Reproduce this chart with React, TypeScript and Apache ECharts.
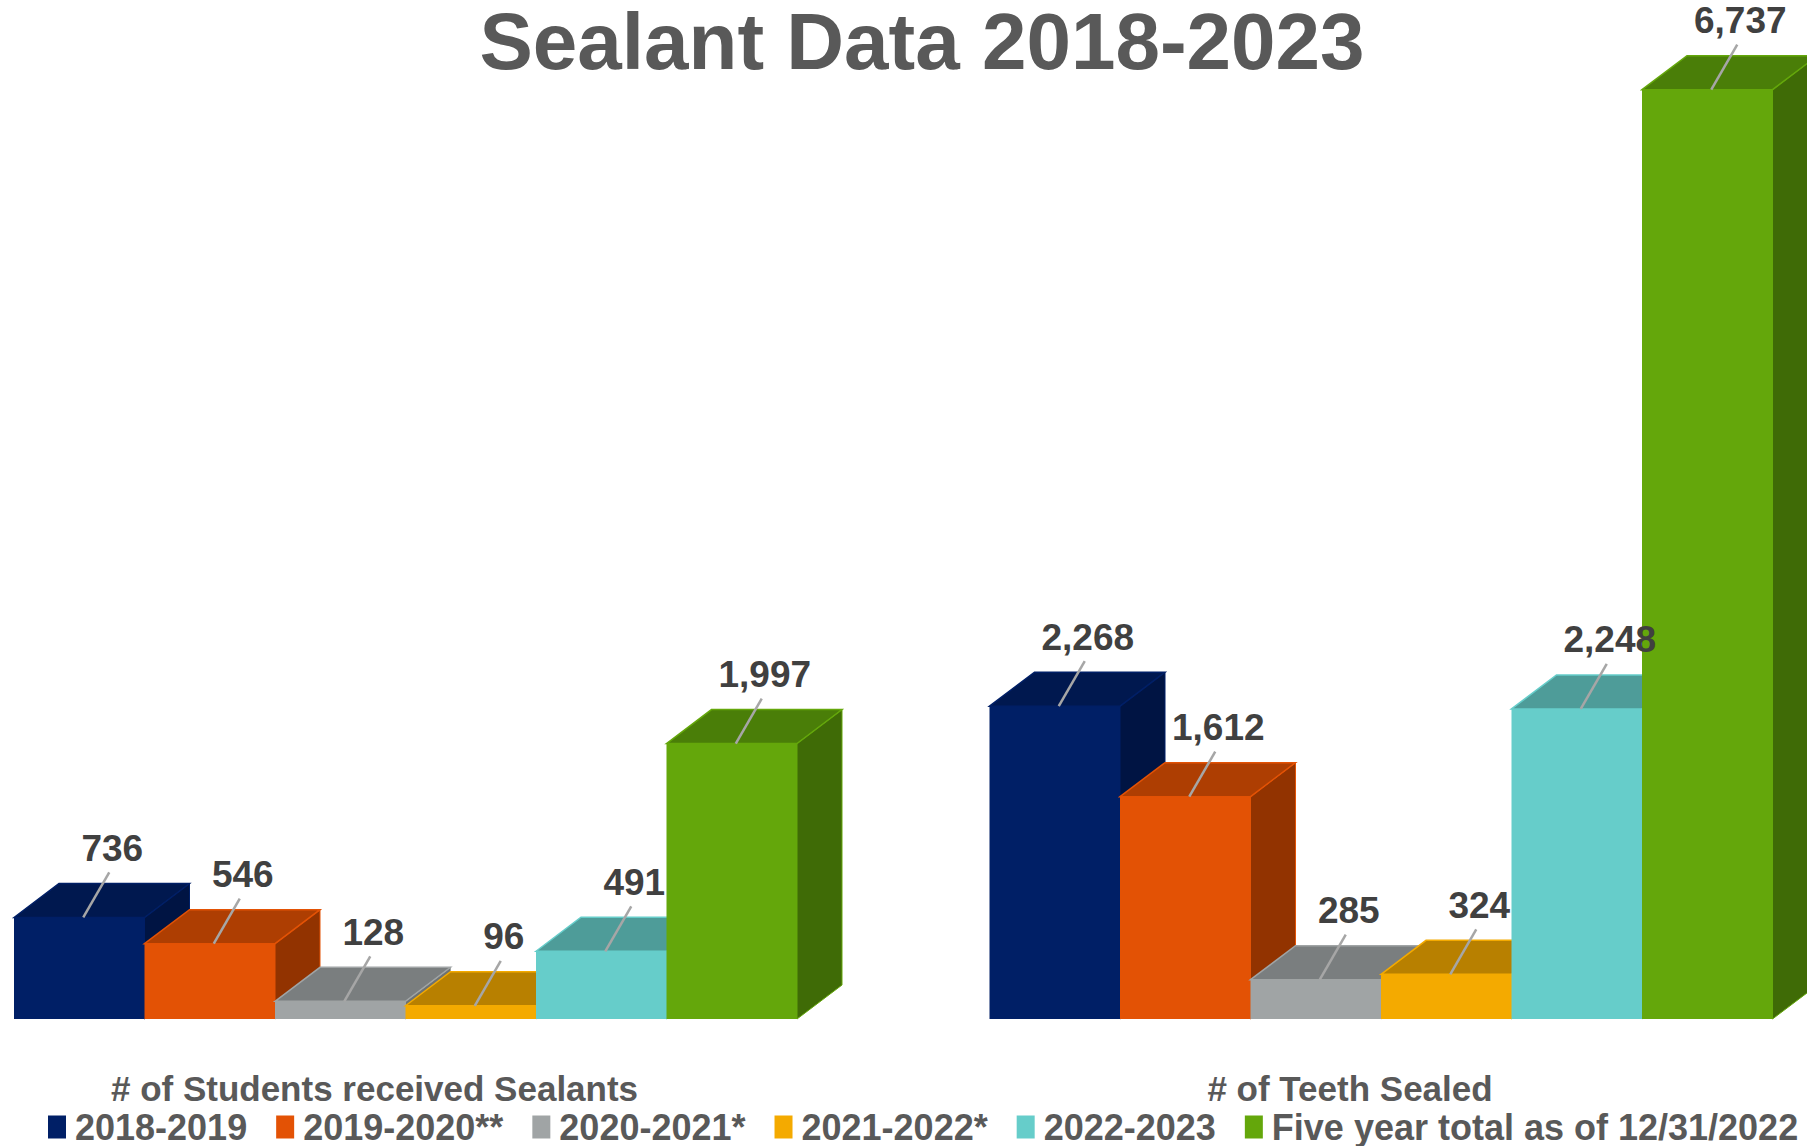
import React, { useEffect, useRef } from 'react';
import * as echarts from 'echarts';

const categories = ['# of Students received Sealants', '# of Teeth Sealed'];
const seriesNames = ['2018-2019', '2019-2020**', '2020-2021*', '2021-2022*', '2022-2023', 'Five year total as of 12/31/2022'];
const values2018 = [736, 2268];
const values2019 = [546, 1612];
const values2020 = [128, 285];
const values2021 = [96, 324];
const values2022 = [491, 2248];
const valuesTotal = [1997, 6737];
const seriesValues = [values2018, values2019, values2020, values2021, values2022, valuesTotal];

const frontColors = ['#001F66', '#E35205', '#A0A4A5', '#F4AA00', '#66CDCA', '#64A70B'];
const topColors = ['#00184F', '#AE3E02', '#7A7E7F', '#B88000', '#4E9C99', '#4A7E08'];
const sideColors = ['#001443', '#923300', '#6E7272', '#9C6D00', '#3F8582', '#3F6B06'];

const FONT = '"Liberation Sans", Arial, Helvetica, sans-serif';
const BAR_FRAC = 130.5 / 975.5;
const DX = 45;
const DY = 34;

function makeRender(idx: number) {
  return (params: any, api: any) => {
    const cat = api.value(0);
    const val = api.value(1);
    const base = api.coord([cat, 0]);
    const top = api.coord([cat, val]);
    const band = api.size([1, 0])[0];
    const w = band * BAR_FRAC;
    const x0 = base[0] - 3 * w + idx * w;
    const x1 = x0 + w;
    const ty = top[1];
    const by = base[1];
    const cx = x0 + w / 2;
    const zb = idx * 10;
    return {
      type: 'group',
      children: [
        {
          type: 'polygon',
          shape: { points: [[x1, ty], [x1 + DX, ty - DY], [x1 + DX, by - DY], [x1, by]] },
          style: { fill: sideColors[idx], stroke: frontColors[idx], lineWidth: 1 },
          z2: zb + 1,
        },
        {
          type: 'polygon',
          shape: { points: [[x0, ty], [x0 + DX, ty - DY], [x1 + DX, ty - DY], [x1, ty]] },
          style: { fill: topColors[idx], stroke: frontColors[idx], lineWidth: 1.5 },
          z2: zb + 2,
        },
        {
          type: 'rect',
          shape: { x: x0, y: ty, width: w, height: by - ty },
          style: { fill: frontColors[idx] },
          z2: zb + 3,
        },
        {
          type: 'line',
          shape: { x1: cx + 4, y1: ty, x2: cx + 30, y2: ty - 45 },
          style: { stroke: '#A6A6A6', lineWidth: 2.5 },
          z2: 1000,
        },
        {
          type: 'text',
          x: cx + 33,
          y: ty - 69,
          style: {
            text: Number(val).toLocaleString('en-US'),
            fill: '#404040',
            font: 'bold 37px ' + FONT,
            align: 'center',
            verticalAlign: 'middle',
          },
          z2: 1001,
        },
      ],
    };
  };
}

export default function App() {
  const ref = useRef<HTMLDivElement>(null);
  useEffect(() => {
    if (!ref.current) return;
    const chart = echarts.init(ref.current, null, { renderer: 'svg' });
    chart.setOption({
      animation: false,
      backgroundColor: '#FFFFFF',
      title: {
        text: 'Sealant Data 2018-2023',
        left: 922,
        textAlign: 'center',
        top: 1,
        padding: 0,
        textStyle: { fontSize: 80, fontWeight: 'bold', color: '#595959', fontFamily: FONT },
      },
      legend: {
        data: seriesNames,
        left: 46,
        top: 1104,
        width: 1790,
        padding: [5, 0, 5, 2],
        icon: 'rect',
        itemWidth: 18,
        itemHeight: 23,
        itemGap: 29,
        textStyle: { fontSize: 36, fontWeight: 'bold', color: '#595959', fontFamily: FONT, padding: [0, 0, 0, 4] },
      },
      grid: {
        left: -82.25,
        right: -61.75,
        top: 53.4,
        bottom: 127,
        outerBoundsMode: 'none',
        containLabel: false,
      },
      xAxis: {
        type: 'category',
        data: categories,
        axisLine: { show: false },
        axisTick: { show: false },
        splitLine: { show: false },
        axisLabel: {
          margin: 52,
          padding: [0, 62, 0, 0],
          fontSize: 35,
          fontWeight: 'bold',
          color: '#595959',
          fontFamily: FONT,
          interval: 0,
        },
      },
      yAxis: {
        type: 'value',
        min: 0,
        max: 7000,
        show: false,
      },
      series: seriesNames.map((name, i) => ({
        type: 'custom',
        name,
        renderItem: makeRender(i),
        itemStyle: { color: frontColors[i] },
        encode: { x: 0, y: 1 },
        data: seriesValues[i].map((v, j) => [j, v]),
        clip: false,
      })),
    });
    return () => chart.dispose();
  }, []);
  return <div ref={ref} style={{ position: 'fixed', left: 0, top: 0, width: 1807, height: 1146 }} />;
}
